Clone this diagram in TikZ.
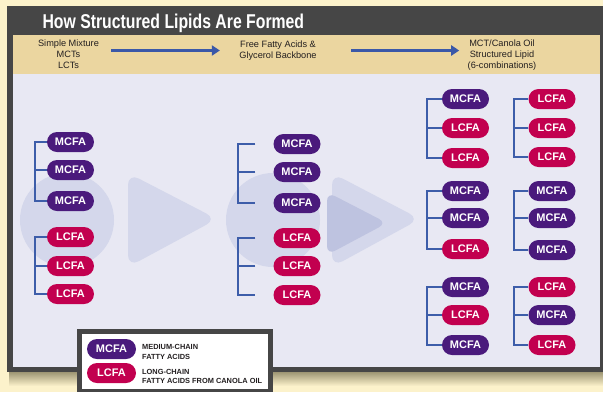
\documentclass[tikz,border=0pt]{standalone}
\usepackage{fontspec}
\setmainfont{Liberation Sans}
\usetikzlibrary{arrows.meta}
\definecolor{bgcol}{HTML}{FCF2CB}
\definecolor{shadowcol}{HTML}{9E9674}
\definecolor{framecol}{HTML}{464646}
\definecolor{tancol}{HTML}{EBD6A0}
\definecolor{panelcol}{HTML}{E8E8F3}
\definecolor{blobcol}{HTML}{D4D7EB}
\definecolor{blobdark}{HTML}{BEC3E0}
\definecolor{mcfacol}{HTML}{4A1A7C}
\definecolor{lcfacol}{HTML}{C2004F}
\definecolor{bracecol}{HTML}{3D5DA9}
\definecolor{flowcol}{HTML}{3A58A8}
\definecolor{inkcol}{HTML}{231F20}

\begin{document}
\begin{tikzpicture}[x=1pt, y=-1pt,
                pill/.style={rounded corners=10pt, minimum width=47pt, minimum height=20pt, inner sep=0pt, text=white, font=\fontsize{11}{12}\selectfont\bfseries},
                mcfa/.style={pill, fill=mcfacol},
                lcfa/.style={pill, fill=lcfacol},
                brace/.style={draw=bracecol, line width=2pt},
                flow/.style={draw=flowcol, line width=3pt, -{Triangle[length=8pt, width=10pt]}},
                head/.style={align=center, text=inkcol, font=\fontsize{9.2}{11}\selectfont}]
                \useasboundingbox (0,0) rectangle (603,392);
                \fill[bgcol] (0,0) rectangle (603,392);
                \shade[top color=shadowcol, bottom color=bgcol] (9,372) rectangle (603,386);
                \fill[framecol] (7,6) rectangle (603,372);
                \fill[tancol] (13,35) rectangle (600,74);
                \fill[panelcol] (13,74) rectangle (600,367);
                \fill[blobcol] (67,220) circle [radius=47pt];
                \fill[blobcol] (273,220) circle [radius=47pt];
                \fill[blobcol, rounded corners=12pt] (128,173) -- (217,219) -- (128,267) -- cycle;
                \fill[blobcol, rounded corners=12pt] (332,173) -- (420,219) -- (332,267) -- cycle;
                \fill[blobdark, rounded corners=9pt] (327,192) -- (387,223) -- (327,255) -- cycle;

                \node[anchor=base west, text=white, font=\fontsize{20}{24}\selectfont\bfseries] (title) at (39,28) {\scalebox{0.79}[1]{How Structured Lipids Are Formed}};
                \node[head] (h1) at (68.5,54.5) {Simple Mixture\\MCTs\\LCTs};
                \node[head] (h2) at (278,50.5) {Free Fatty Acids \&\\Glycerol Backbone};
                \node[head] (h3) at (502,55.5) {MCT/Canola Oil\\Structured Lipid\\(6-combinations)};
                \draw[flow, shorten <=9pt, shorten >=16pt] (h1.east |- h2) -- (h2);
                \draw[flow, shorten <=31pt, shorten >=5pt] (h2.east) -- (h3.west |- h2);

                \begin{scope}[every node/.style={}]
                        \node[mcfa] (a1) at (70.5,142) {MCFA};
                        \node[mcfa] (a2) at (70.5,170) {MCFA};
                        \node[mcfa] (a3) at (70.5,201) {MCFA};
                        \node[lcfa] (a4) at (70.5,237) {LCFA};
                        \node[lcfa] (a5) at (70.5,266) {LCFA};
                        \node[lcfa] (a6) at (70.5,294) {LCFA};
                        \node[mcfa] (b1) at (297,144) {MCFA};
                        \node[mcfa] (b2) at (297,172) {MCFA};
                        \node[mcfa] (b3) at (297,203) {MCFA};
                        \node[lcfa] (b4) at (297,238) {LCFA};
                        \node[lcfa] (b5) at (297,266) {LCFA};
                        \node[lcfa] (b6) at (297,295) {LCFA};
                        \node[mcfa] (c1) at (465.5,99) {MCFA};
                        \node[lcfa] (c2) at (465.5,128) {LCFA};
                        \node[lcfa] (c3) at (465.5,158) {LCFA};
                        \node[mcfa] (c4) at (465.5,191) {MCFA};
                        \node[mcfa] (c5) at (465.5,218) {MCFA};
                        \node[lcfa] (c6) at (465.5,249) {LCFA};
                        \node[mcfa] (c7) at (465.5,287) {MCFA};
                        \node[lcfa] (c8) at (465.5,315) {LCFA};
                        \node[mcfa] (c9) at (465.5,345) {MCFA};
                        \node[lcfa] (d1) at (552,99) {LCFA};
                        \node[lcfa] (d2) at (552,128) {LCFA};
                        \node[lcfa] (d3) at (552,157) {LCFA};
                        \node[mcfa] (d4) at (552,191) {MCFA};
                        \node[mcfa] (d5) at (552,218) {MCFA};
                        \node[mcfa] (d6) at (552,250) {MCFA};
                        \node[lcfa] (d7) at (552,287) {LCFA};
                        \node[mcfa] (d8) at (552,315) {MCFA};
                        \node[lcfa] (d9) at (552,345) {LCFA};
                \end{scope}

                \draw[brace] (a1.west) -- ++(-12,0) |- (a3.west);
                \draw[brace] (a2.west) -- ++(-12,0);
                \draw[brace] (a4.west) -- ++(-12,0) |- (a6.west);
                \draw[brace] (a5.west) -- ++(-12,0);
                \draw[brace] ([xshift=-18pt]b1.west) -- ++(-17,0) |- ([xshift=-18pt]b3.west);
                \draw[brace] ([xshift=-18pt]b2.west) -- ++(-17,0);
                \draw[brace] ([xshift=-18pt]b4.west) -- ++(-17,0) |- ([xshift=-18pt]b6.west);
                \draw[brace] ([xshift=-18pt]b5.west) -- ++(-17,0);
                \draw[brace] (c1.west) -- ++(-15,0) |- (c3.west);
                \draw[brace] (c2.west) -- ++(-15,0);
                \draw[brace] (c4.west) -- ++(-15,0) |- (c6.west);
                \draw[brace] (c5.west) -- ++(-15,0);
                \draw[brace] (c7.west) -- ++(-15,0) |- (c9.west);
                \draw[brace] (c8.west) -- ++(-15,0);
                \draw[brace] (d1.west) -- ++(-14,0) |- (d3.west);
                \draw[brace] (d2.west) -- ++(-14,0);
                \draw[brace] (d4.west) -- ++(-14,0) |- (d6.west);
                \draw[brace] (d5.west) -- ++(-14,0);
                \draw[brace] (d7.west) -- ++(-14,0) |- (d9.west);
                \draw[brace] (d8.west) -- ++(-14,0);

                \fill[framecol] (77,329) rectangle (273,392);
                \fill[white] (82,334) rectangle (268,389);
                \begin{scope}[every node/.style={anchor=west, inner sep=0pt, align=left, text=inkcol, font=\fontsize{7.4}{9.7}\selectfont\bfseries}]
                        \node[mcfa, anchor=center, minimum width=49pt] (k1) at (111.5,349) {MCFA};
                        \node[lcfa, anchor=center, minimum width=49pt] (k2) at (111.5,373) {LCFA};
                        \node (t1) at (142,352) {MEDIUM-CHAIN\\FATTY ACIDS};
                        \node (t2) at (142,376.5) {LONG-CHAIN\\FATTY ACIDS FROM CANOLA OIL};
                \end{scope}
\end{tikzpicture}
\end{document}
